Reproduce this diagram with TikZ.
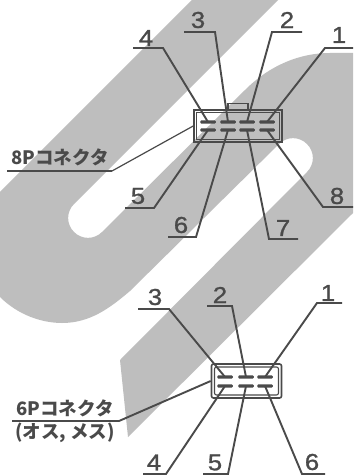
\documentclass[tikz,border=0pt]{standalone}
\usepackage{fontspec}
\setmainfont{Liberation Sans}
\newfontfamily\jpfont{Noto Sans CJK JP}
\newfontfamily\digfont[FakeBold=1.2,FakeStretch=1.12]{Liberation Sans}
\definecolor{wm}{HTML}{BEBEBE}
\definecolor{ink}{HTML}{4A4A4A}
\tikzset{
  lead/.style={draw=ink,line width=1.9bp,line join=miter},
  digit/.style={text=ink,inner sep=0pt,font=\digfont\fontsize{23bp}{23bp}\selectfont},
  jplabel/.style={text=ink,inner sep=0pt,font=\jpfont\bfseries\fontsize{18.5bp}{18.5bp}\selectfont},
  pin/.style={fill=ink,draw=none,inner sep=0pt,minimum width=15.5bp,minimum height=3.4bp,rounded corners=1bp},
  shell/.style={draw=ink,line width=1.6bp,fill=none,inner sep=0pt},
}
\begin{document}
\begin{tikzpicture}[x=1bp,y=-1bp]
\useasboundingbox (0,0) rectangle (353,475);
\fill[white] (0,0) rectangle (353,475);
% watermark
\fill[wm] (192,0) -- (278,0) -- (74,204)
  .. controls (66.2,211.8) and (66.2,224.2) .. (74,232)
  .. controls (81.8,239.8) and (94.2,239.8) .. (102,232)
  -- (245,90) .. controls (270,65) and (300,53) .. (330,53) -- (353,53)
  -- (353,213) -- (128,437) -- (120,360) -- (307,172)
  .. controls (314.8,164.2) and (314.8,151.8) .. (307,144)
  .. controls (299.2,136.2) and (286.8,136.2) .. (279,144)
  -- (130,291) .. controls (110,308) and (90,323) .. (62,323)
  .. controls (42,323) and (18,315) .. (0,297) -- (0,192) -- cycle;
% 8P connector
\node[shell,minimum width=88bp,minimum height=32bp] (boxA) at (238,126) {};
\node[shell,line width=1.1bp,minimum width=83bp,minimum height=27bp] (boxAi) at (238,126) {};
\node[shell,line width=1.1bp,minimum width=20bp,minimum height=6bp,anchor=south] (tabA) at (238,110) {};
\foreach \n/\x in {1/267,2/247,3/228,4/208}{\node[pin] (a\n) at (\x,122) {};}
\foreach \n/\x in {5/208,6/228,7/247,8/267}{\node[pin] (a\n) at (\x,130) {};}
\node[digit] (la1) at (339,35) {1};
\node[digit] (la2) at (287,20) {2};
\node[digit] (la3) at (198,20) {3};
\node[digit] (la4) at (146,38) {4};
\node[digit] (la5) at (138,196) {5};
\node[digit] (la6) at (181,225) {6};
\node[digit] (la7) at (283,228) {7};
\node[digit] (la8) at (337,196) {8};
\coordinate (ua1) at (353,48); \coordinate (ea1) at (325,48);
\coordinate (ua2) at (302,32); \coordinate (ea2) at (272,32);
\coordinate (ua3) at (184,32); \coordinate (ea3) at (215,32);
\coordinate (ua4) at (133,48); \coordinate (ea4) at (163,48);
\coordinate (ua5) at (125,208); \coordinate (ea5) at (154,208);
\coordinate (ua6) at (168,237); \coordinate (ea6) at (196,237);
\coordinate (ua7) at (298,239); \coordinate (ea7) at (269,239);
\coordinate (ua8) at (353,207); \coordinate (ea8) at (323,207);
\foreach \n in {1,...,8}{\draw[lead] (ua\n) -- (ea\n) -- (a\n.center);}
\node[jplabel] (lbA) at (60,157) {8Pコネクタ};
\coordinate (uA) at (7,171); \coordinate (eA) at (112,171);
\draw[lead,line width=2.2bp] (uA) -- (eA);
\draw[lead,line width=1.2bp] (eA) -- (boxA.west);
% 6P connector
\node[shell,rounded corners=2bp,minimum width=70bp,minimum height=34bp] (boxB) at (246.5,381) {};
\node[shell,line width=1.1bp,rounded corners=2bp,minimum width=64bp,minimum height=28bp] (boxBi) at (246.5,381) {};
\foreach \n/\x in {1/265,2/246,3/225}{\node[pin] (b\n) at (\x,377) {};}
\foreach \n/\x in {4/225,5/246,6/265}{\node[pin] (b\n) at (\x,386) {};}
\node[digit] (lb1) at (328,293) {1};
\node[digit] (lb2) at (220,295) {2};
\node[digit] (lb3) at (155,297) {3};
\node[digit] (lb4) at (154,462.5) {4};
\node[digit] (lb5) at (215,462.5) {5};
\node[digit] (lb6) at (312,462) {6};
\coordinate (ub1) at (342,303); \coordinate (eb1) at (317,303);
\coordinate (ub2) at (207,306); \coordinate (eb2) at (232,306);
\coordinate (ub3) at (138,309); \coordinate (eb3) at (169,309);
\coordinate (ub4) at (143,474) ; \coordinate (eb4) at (166,474);
\coordinate (ub5) at (203,474) ; \coordinate (eb5) at (228,474);
\coordinate (ub6) at (325,474); \coordinate (eb6) at (302,474);
\foreach \n in {1,...,6}{\draw[lead] (ub\n) -- (eb\n) -- (b\n.center);}
\node[jplabel] (lbB) at (65,408) {6Pコネクタ};
\node[jplabel] (lbC) at (65,433) {(オス, メス)};
\coordinate (uB) at (12,421); \coordinate (eB) at (119,421);
\draw[lead] (uB) -- (eB) -- (boxB.west);
\end{tikzpicture}
\end{document}
